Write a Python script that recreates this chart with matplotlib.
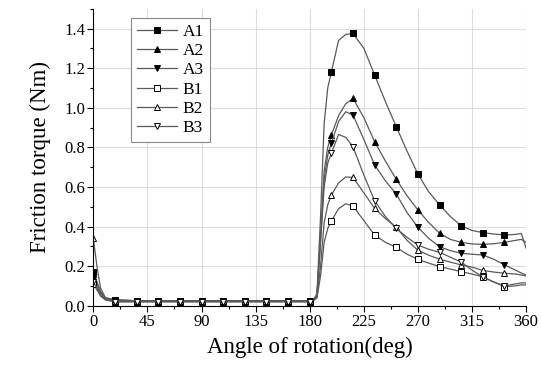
import numpy as np
import matplotlib
matplotlib.use('Agg')
from matplotlib import pyplot as plt
from matplotlib.ticker import MultipleLocator

# angle of rotation (deg), markers drawn every 18 deg
angle = [0, 3, 6, 10, 18, 36, 54, 72, 90, 108, 126, 144, 162, 180,
         183, 186, 189, 192, 195, 198, 204, 210, 216, 225, 234, 243,
         252, 261, 270, 279, 288, 297, 306, 315, 324, 333, 342, 351, 356, 360]

a1 = [0.17, 0.12, 0.07, 0.04, 0.03, 0.025, 0.025, 0.025, 0.025, 0.025, 0.025, 0.025, 0.025, 0.025,
      0.03, 0.06, 0.45, 0.92, 1.10, 1.18, 1.34, 1.37, 1.375, 1.30, 1.165, 1.03,
      0.904, 0.78, 0.665, 0.575, 0.51, 0.45, 0.404, 0.38, 0.369, 0.362, 0.357, 0.36, 0.365, 0.29]
a2 = [0.16, 0.12, 0.07, 0.04, 0.03, 0.025, 0.025, 0.025, 0.025, 0.025, 0.025, 0.025, 0.025, 0.025,
      0.03, 0.05, 0.35, 0.68, 0.80, 0.862, 0.96, 1.02, 1.047, 0.95, 0.828, 0.73,
      0.638, 0.555, 0.483, 0.42, 0.366, 0.335, 0.32, 0.312, 0.31, 0.313, 0.32, 0.33, 0.335, 0.32]
a3 = [0.14, 0.10, 0.06, 0.035, 0.025, 0.022, 0.022, 0.022, 0.022, 0.022, 0.022, 0.022, 0.022, 0.022,
      0.03, 0.05, 0.33, 0.64, 0.76, 0.82, 0.93, 0.98, 0.963, 0.84, 0.711, 0.63,
      0.564, 0.47, 0.396, 0.34, 0.298, 0.278, 0.265, 0.26, 0.256, 0.235, 0.206, 0.18, 0.165, 0.155]
b1 = [0.11, 0.08, 0.05, 0.03, 0.02, 0.02, 0.02, 0.02, 0.02, 0.02, 0.02, 0.02, 0.02, 0.02,
      0.025, 0.04, 0.15, 0.32, 0.39, 0.428, 0.49, 0.515, 0.503, 0.43, 0.357, 0.32,
      0.295, 0.26, 0.234, 0.215, 0.197, 0.185, 0.172, 0.16, 0.146, 0.12, 0.096, 0.10, 0.105, 0.105]
b2 = [0.34, 0.20, 0.09, 0.04, 0.025, 0.025, 0.025, 0.025, 0.025, 0.025, 0.025, 0.025, 0.025, 0.025,
      0.03, 0.04, 0.20, 0.42, 0.51, 0.559, 0.62, 0.65, 0.648, 0.57, 0.492, 0.44,
      0.396, 0.33, 0.28, 0.255, 0.235, 0.22, 0.206, 0.195, 0.178, 0.17, 0.164, 0.16, 0.155, 0.15]
b3 = [0.12, 0.09, 0.05, 0.03, 0.02, 0.02, 0.02, 0.02, 0.02, 0.02, 0.02, 0.02, 0.02, 0.02,
      0.03, 0.05, 0.32, 0.60, 0.72, 0.77, 0.865, 0.85, 0.803, 0.66, 0.53, 0.45,
      0.39, 0.345, 0.306, 0.285, 0.27, 0.245, 0.22, 0.18, 0.145, 0.12, 0.10, 0.11, 0.115, 0.115]

labels = ['A1', 'A2', 'A3', 'B1', 'B2', 'B3']
series = [a1, a2, a3, b1, b2, b3]
markers = ['s', '^', 'v', 's', '^', 'v']
fills = ['black', 'black', 'black', 'white', 'white', 'white']

plt.rcParams['font.family'] = ['Liberation Serif', 'DejaVu Serif']

angle = np.array(angle)
mark_idx = list(np.where((angle % 18 == 0) & (angle <= 342))[0])

fig = plt.figure(figsize=(5.41, 3.71), dpi=100)
ax = fig.add_axes([0.1725, 0.176, 0.80, 0.8005])

for vals, lab, m, fc in zip(series, labels, markers, fills):
    ax.plot(angle, vals, color='#5a5a5a', lw=0.9, marker=m, markersize=4.5,
            markerfacecolor=fc, markeredgecolor='black', markeredgewidth=0.7,
            markevery=mark_idx, label=lab)

ax.set_xlim(0, 360)
ax.set_ylim(0, 1.5)
ax.xaxis.set_major_locator(MultipleLocator(45))
ax.xaxis.set_minor_locator(MultipleLocator(22.5))
ax.yaxis.set_minor_locator(MultipleLocator(0.1))
ax.set_yticks(np.arange(0, 1.41, 0.2))
ax.yaxis.set_major_formatter(matplotlib.ticker.FormatStrFormatter('%.1f'))
ax.grid(True, which='major', color='#dddddd', lw=0.8)
ax.set_axisbelow(True)
for s in ['top', 'right']:
    ax.spines[s].set_visible(False)
ax.tick_params(which='major', direction='out', length=4, width=0.8, labelsize=12, pad=2)
ax.tick_params(which='minor', direction='out', length=2.5, width=0.8)

ax.set_xlabel('Angle of rotation(deg)', fontsize=16.5, labelpad=5)
ax.set_ylabel('Friction torque (Nm)', fontsize=16.5, labelpad=9)

leg = ax.legend(loc='upper left', bbox_to_anchor=(0.088, 0.97), fontsize=12.5,
                handlelength=2.3, labelspacing=0.18, borderpad=0.35,
                borderaxespad=0, handletextpad=0.3, fancybox=False, framealpha=1,
                edgecolor='#888888', markerscale=0.85)
leg.get_frame().set_linewidth(0.8)

plt.savefig('out.png', dpi=100)
